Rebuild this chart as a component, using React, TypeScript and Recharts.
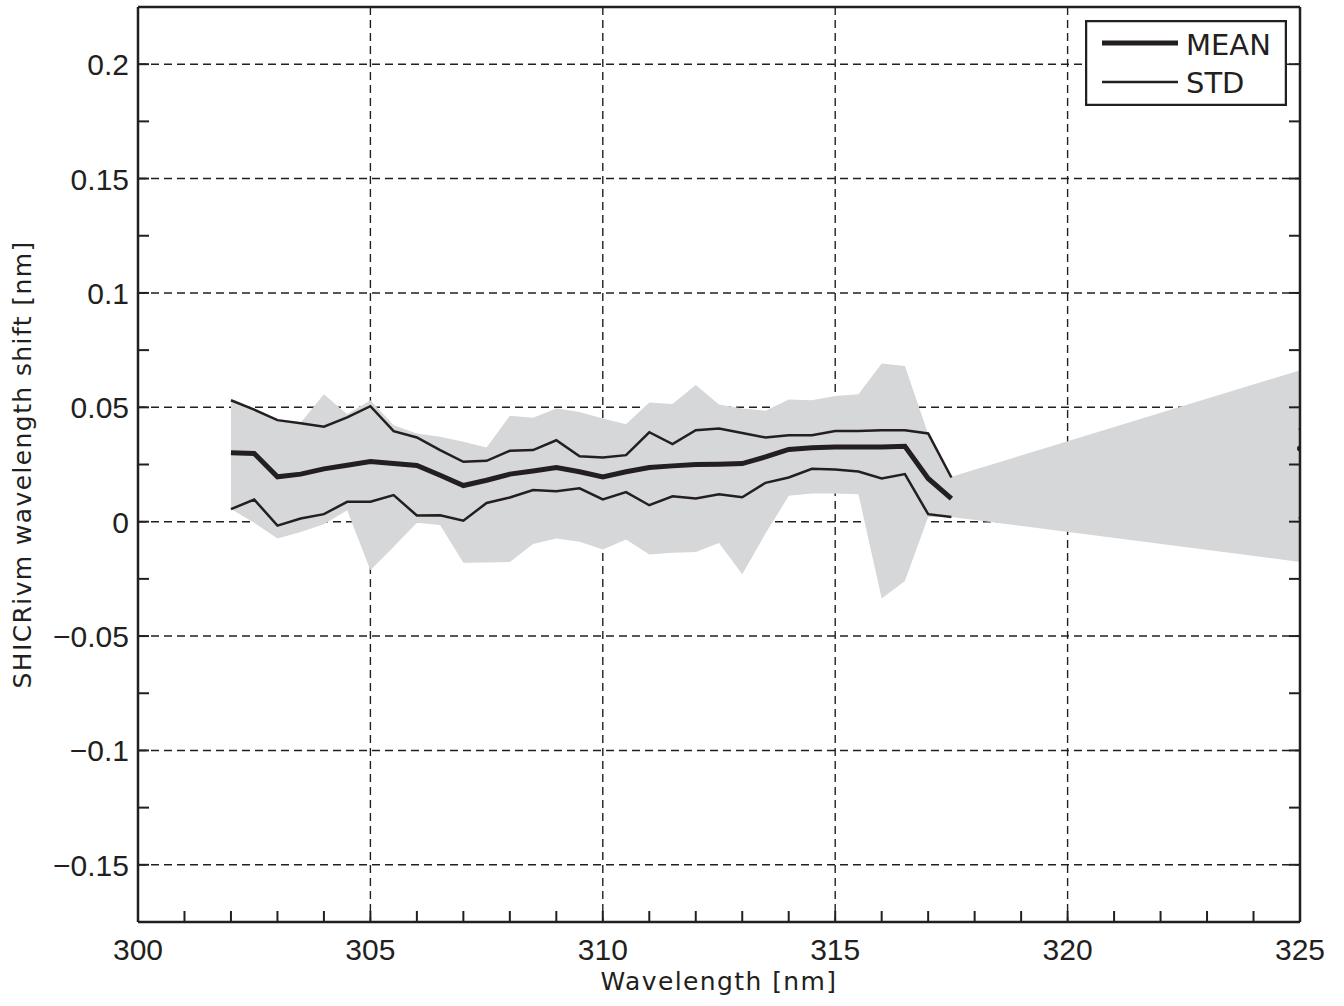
import React from "react";
import { ComposedChart, Area, Line, XAxis, YAxis, CartesianGrid, Legend } from "recharts";

const INK = "#231f20";
const BAND = "#d6d7d9";
const TICK_FONT = "'Liberation Sans', Arial, sans-serif";
const TITLE_FONT = "'DejaVu Sans', sans-serif";

// wavelengths of the measured points [nm]
const wavelength = [
  302, 302.5, 303, 303.5, 304, 304.5, 305, 305.5, 306, 306.5, 307, 307.5, 308, 308.5, 309, 309.5,
  310, 310.5, 311, 311.5, 312, 312.5, 313, 313.5, 314, 314.5, 315, 315.5, 316, 316.5, 317, 317.5,
];
const meanShift = [
  0.0301, 0.0298, 0.0196, 0.0208, 0.0231, 0.0247, 0.0263, 0.0254, 0.0246, 0.0203, 0.0158, 0.0181,
  0.0208, 0.0222, 0.0237, 0.0218, 0.0196, 0.0218, 0.0237, 0.0244, 0.025, 0.0251, 0.0254, 0.0283,
  0.0316, 0.0323, 0.0327, 0.0327, 0.0327, 0.033, 0.0189, 0.0101,
];
const stdUpper = [
  0.0531, 0.049, 0.0444, 0.043, 0.0415, 0.0456, 0.0505, 0.0396, 0.0368, 0.0313, 0.0262, 0.0266,
  0.031, 0.0313, 0.0356, 0.0286, 0.0281, 0.0291, 0.0391, 0.0339, 0.04, 0.0407, 0.0388, 0.0368,
  0.0378, 0.0378, 0.0396, 0.0396, 0.04, 0.04, 0.0386, 0.0193,
];
const stdLower = [
  0.0055, 0.0097, -0.0017, 0.0014, 0.0033, 0.0087, 0.0087, 0.0116, 0.0027, 0.0028, 0.0004, 0.0082,
  0.0106, 0.0138, 0.0133, 0.0146, 0.0097, 0.0129, 0.0072, 0.0111, 0.0101, 0.012, 0.0107, 0.017,
  0.0193, 0.0231, 0.0228, 0.0219, 0.0189, 0.0208, 0.0033, 0.0021,
];

// grey min/max envelope, which runs on to 325 nm
const bandWavelength = [...wavelength, 325];
const bandUpper = [
  0.0531, 0.049, 0.0444, 0.0433, 0.0557, 0.047, 0.0531, 0.0422, 0.0386, 0.0371, 0.0349, 0.0324,
  0.0463, 0.0454, 0.0495, 0.048, 0.0451, 0.0426, 0.0521, 0.0514, 0.0598, 0.0512, 0.0495, 0.0485,
  0.0534, 0.0531, 0.0549, 0.0557, 0.0692, 0.0681, 0.0383, 0.0196, 0.0662,
];
const bandLower = [
  0.0055, -0.0005, -0.0073, -0.0045, -0.0011, 0.005, -0.0212, -0.011, -0.0005, -0.0015, -0.018,
  -0.0178, -0.0176, -0.0098, -0.0073, -0.0088, -0.0122, -0.0078, -0.0143, -0.0136, -0.0132,
  -0.0093, -0.023, -0.0052, 0.0113, 0.0123, 0.0123, 0.012, -0.0336, -0.0259, 0.0021, 0.0021, -0.0176,
];

// lone points at the right edge
const endWavelength = [325];
const endMean = [0.032];
const endStdUpper = [0.0405];
const endStdLower = [0.0017];

const xTicks = [
  300, 301, 302, 303, 304, 305, 306, 307, 308, 309, 310, 311, 312, 313, 314, 315, 316, 317, 318,
  319, 320, 321, 322, 323, 324, 325,
];
const xMajor = [300, 305, 310, 315, 320, 325];
const yTicks = [
  -0.15, -0.125, -0.1, -0.075, -0.05, -0.025, 0, 0.025, 0.05, 0.075, 0.1, 0.125, 0.15, 0.175, 0.2,
];
const yMajor = [-0.15, -0.1, -0.05, 0, 0.05, 0.1, 0.15, 0.2];
const yMajorLabels = ["\u22120.15", "\u22120.1", "\u22120.05", "0", "0.05", "0.1", "0.15", "0.2"];

const lineData = wavelength.map((w, i) => ({ w, mean: meanShift[i], hi: stdUpper[i], lo: stdLower[i] }));
const bandData = bandWavelength.map((w, i) => ({ w, band: [bandLower[i], bandUpper[i]] }));
const endData = endWavelength.map((w, i) => ({
  w,
  mean: endMean[i],
  hi: endStdUpper[i],
  lo: endStdLower[i],
}));

const TICK_LEN = 11;

const majorIndex = (list: number[], v: number) => list.findIndex((m) => Math.abs(m - v) < 1e-9);

const BottomTick = (props: any) => {
  const { x, y, payload } = props;
  const isMajor = majorIndex(xMajor, payload.value) >= 0;
  return (
    <g>
      <line x1={x} x2={x} y1={y} y2={y - TICK_LEN} stroke={INK} strokeWidth={2} />
      {isMajor && (
        <text x={x} y={y + 38} textAnchor="middle" fontFamily={TICK_FONT} fontSize={30} fill={INK}>
          {payload.value}
        </text>
      )}
    </g>
  );
};

const TopTick = (props: any) => {
  const { x, y } = props;
  return <line x1={x} x2={x} y1={y} y2={y + TICK_LEN} stroke={INK} strokeWidth={2} />;
};

const LeftTick = (props: any) => {
  const { x, y, payload } = props;
  const idx = majorIndex(yMajor, payload.value);
  return (
    <g>
      <line x1={x} x2={x + TICK_LEN} y1={y} y2={y} stroke={INK} strokeWidth={2} />
      {idx >= 0 && (
        <text x={x - 9} y={y + 11} textAnchor="end" fontFamily={TICK_FONT} fontSize={30} fill={INK}>
          {yMajorLabels[idx]}
        </text>
      )}
    </g>
  );
};

const RightTick = (props: any) => {
  const { x, y } = props;
  return <line x1={x} x2={x - TICK_LEN} y1={y} y2={y} stroke={INK} strokeWidth={2} />;
};

const renderLegend = (props: any) => {
  const items = (props.payload || []).filter((p: any) => p.type !== "none");
  return (
    <svg width={202} height={86} style={{ display: "block" }}>
      <rect x={1} y={1} width={200} height={84} fill="#ffffff" stroke={INK} strokeWidth={2.5} />
      {items.map((entry: any, i: number) => (
        <g key={entry.value}>
          <line
            x1={17}
            x2={93}
            y1={23 + i * 39}
            y2={23 + i * 39}
            stroke={INK}
            strokeWidth={entry.payload?.strokeWidth ?? 2.5}
          />
          <text x={101} y={35 + i * 38} fontFamily={TITLE_FONT} fontSize={29} fill={INK}>
            {entry.value}
          </text>
        </g>
      ))}
    </svg>
  );
};

const frame = { stroke: INK, strokeWidth: 2.5 };

export default function App() {
  return (
    <div style={{ position: "absolute", left: 0, top: 0, background: "#ffffff" }}>
      <ComposedChart width={1344} height={1006} margin={{ top: 6, right: 43, bottom: 0, left: 0 }}>
        <XAxis
          xAxisId="b"
          dataKey="w"
          type="number"
          domain={[300, 325]}
          ticks={xTicks}
          interval={0}
          height={84}
          tickSize={0}
          tickMargin={0}
          tickLine={false}
          axisLine={frame}
          tick={BottomTick}
          allowDataOverflow
          label={{
            value: "Wavelength [nm]",
            position: "insideBottom",
            offset: 16,
            fontFamily: TITLE_FONT,
            fontSize: 25,
            letterSpacing: 1.4,
            fill: INK,
          }}
        />
        <XAxis
          xAxisId="t"
          orientation="top"
          type="number"
          domain={[300, 325]}
          ticks={xTicks}
          interval={0}
          height={1}
          tickSize={0}
          tickMargin={0}
          tickLine={false}
          axisLine={frame}
          tick={TopTick}
          allowDataOverflow
        />
        <YAxis
          yAxisId="l"
          type="number"
          domain={[-0.175, 0.225]}
          ticks={yTicks}
          interval={0}
          width={138}
          tickSize={0}
          tickMargin={0}
          tickLine={false}
          axisLine={frame}
          tick={LeftTick}
          allowDataOverflow
          label={{
            value: "SHICRivm wavelength shift [nm]",
            angle: -90,
            position: "insideLeft",
            offset: 22,
            fontFamily: TITLE_FONT,
            fontSize: 25,
            letterSpacing: 1.4,
            fill: INK,
            style: { textAnchor: "middle" },
          }}
        />
        <YAxis
          yAxisId="r"
          orientation="right"
          type="number"
          domain={[-0.175, 0.225]}
          ticks={yTicks}
          interval={0}
          width={1}
          tickSize={0}
          tickMargin={0}
          tickLine={false}
          axisLine={frame}
          tick={RightTick}
          allowDataOverflow
        />
        <CartesianGrid
          xAxisId="b"
          yAxisId="l"
          verticalValues={xMajor}
          horizontalValues={yMajor}
          stroke={INK}
          strokeWidth={1.4}
          strokeDasharray="8 5"
        />
        <Legend
          layout="vertical"
          align="center"
          verticalAlign="middle"
          content={renderLegend}
          wrapperStyle={{ left: 1085, top: 20, width: 202, height: 86 }}
        />
        <Area
          xAxisId="b"
          yAxisId="l"
          data={bandData}
          dataKey="band"
          type="linear"
          stroke="none"
          fill={BAND}
          fillOpacity={1}
          legendType="none"
          isAnimationActive={false}
        />
        <Line
          xAxisId="b"
          yAxisId="l"
          data={lineData}
          dataKey="mean"
          name="MEAN"
          type="linear"
          stroke={INK}
          strokeWidth={5}
          dot={false}
          isAnimationActive={false}
        />
        <Line
          xAxisId="b"
          yAxisId="l"
          data={lineData}
          dataKey="hi"
          name="STD"
          type="linear"
          stroke={INK}
          strokeWidth={2.5}
          dot={false}
          isAnimationActive={false}
        />
        <Line
          xAxisId="b"
          yAxisId="l"
          data={lineData}
          dataKey="lo"
          type="linear"
          stroke={INK}
          strokeWidth={2.5}
          dot={false}
          legendType="none"
          isAnimationActive={false}
        />
        <Line
          xAxisId="b"
          yAxisId="l"
          data={endData}
          dataKey="mean"
          stroke="none"
          dot={{ r: 3, fill: INK, stroke: "none" }}
          legendType="none"
          isAnimationActive={false}
        />
        <Line
          xAxisId="b"
          yAxisId="l"
          data={endData}
          dataKey="hi"
          stroke="none"
          dot={{ r: 1.5, fill: INK, stroke: "none" }}
          legendType="none"
          isAnimationActive={false}
        />
        <Line
          xAxisId="b"
          yAxisId="l"
          data={endData}
          dataKey="lo"
          stroke="none"
          dot={{ r: 1.5, fill: INK, stroke: "none" }}
          legendType="none"
          isAnimationActive={false}
        />
      </ComposedChart>
    </div>
  );
}
